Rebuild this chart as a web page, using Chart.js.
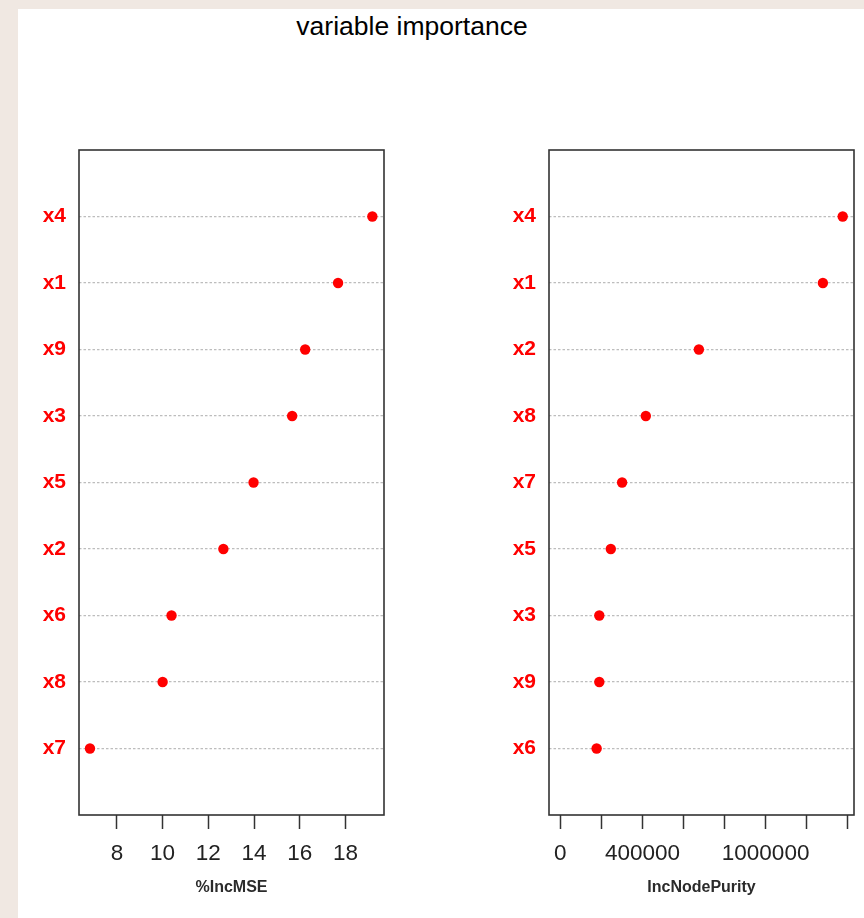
<!DOCTYPE html>
<html>
<head>
<meta charset="utf-8">
<script src="https://cdn.jsdelivr.net/npm/chart.js@4/dist/chart.umd.min.js"></script>
<style>
  html, body { margin: 0; padding: 0; }
  body { width: 864px; height: 918px; background: #f0e8e2; position: relative; overflow: hidden; font-family: "Liberation Sans", Arial, sans-serif; }
  #sheet { position: absolute; left: 18px; top: 9px; right: 0; bottom: 0; background: #ffffff; }
  #title { position: absolute; left: 212px; width: 400px; top: 9px; text-align: center; font-size: 26.5px; color: #000; line-height: 34px; }
  .panel { position: absolute; top: 0; width: 432px; height: 918px; }
  #leftPanel { left: 0; }
  #rightPanel { left: 432px; }
</style>
</head>
<body>
<div id="sheet"></div>
<div id="title">variable importance</div>
<div class="panel" id="leftPanel"><canvas id="mseChart"></canvas></div>
<div class="panel" id="rightPanel"><canvas id="purityChart"></canvas></div>
<script>
// %IncMSE, sorted from most to least important (top to bottom)
const mseNames  = ['x4', 'x1', 'x9', 'x3', 'x5', 'x2', 'x6', 'x8', 'x7'];
const mseValues = [19.18, 17.68, 16.24, 15.67, 13.98, 12.66, 10.39, 10.0, 6.82];
const mseTicks  = [8, 10, 12, 14, 16, 18];
const mseTickLabels = ['8', '10', '12', '14', '16', '18'];
const mseRange  = [6.34, 19.69];

// IncNodePurity, sorted from most to least important (top to bottom)
const purityNames  = ['x4', 'x1', 'x2', 'x8', 'x7', 'x5', 'x3', 'x9', 'x6'];
const purityValues = [1375500, 1279000, 675000, 416600, 301000, 246000, 190000, 190000, 177000];
const purityTicks  = [0, 200000, 400000, 600000, 800000, 1000000, 1200000, 1400000];
const purityTickLabels = ['0', '', '400000', '', '', '1000000', '', ''];
const purityRange  = [-55000, 1430500];

const FONT = "'Liberation Sans', Arial, sans-serif";

// Frame around the plotting region
const boxPlugin = {
  id: 'box',
  afterDraw(chart) {
    const a = chart.chartArea, ctx = chart.ctx;
    ctx.save();
    ctx.strokeStyle = '#333333';
    ctx.lineWidth = 1.6;
    ctx.strokeRect(a.left, a.top, a.right - a.left, a.bottom - a.top);
    ctx.restore();
  }
};

function makeDotChart(canvasId, names, values, ticks, tickLabels, range, axisTitle, yWidth, padRight) {
  const points = values.map((v, i) => ({ x: v, y: i + 1 }));
  return new Chart(document.getElementById(canvasId), {
    type: 'scatter',
    data: {
      datasets: [{
        data: points,
        backgroundColor: '#ff0000',
        borderWidth: 0,
        pointRadius: 5.2,
        pointHoverRadius: 5.2
      }]
    },
    options: {
      responsive: true,
      maintainAspectRatio: false,
      animation: false,
      events: [],
      layout: { padding: { left: 0, top: 150, right: padRight, bottom: 0 } },
      plugins: { legend: { display: false }, tooltip: { enabled: false } },
      scales: {
        x: {
          type: 'linear',
          min: range[0],
          max: range[1],
          afterBuildTicks: s => { s.ticks = ticks.map(v => ({ value: v })); },
          afterFit: s => { s.height = 103; },
          border: { display: false },
          grid: {
            drawOnChartArea: false,
            drawTicks: true,
            tickLength: 14,
            tickColor: '#333333',
            tickWidth: 1.5
          },
          ticks: {
            autoSkip: false,
            maxRotation: 0,
            padding: 11,
            color: '#222222',
            font: { family: FONT, size: 22.5 },
            callback: (val, idx) => tickLabels[idx]
          },
          title: {
            display: true,
            text: axisTitle,
            color: '#2b2b2b',
            font: { family: FONT, size: 16, weight: 'bold' },
            padding: { top: 0, bottom: 21 }
          }
        },
        y: {
          type: 'linear',
          reverse: true,
          min: 0,
          max: names.length + 1,
          afterBuildTicks: s => { s.ticks = names.map((n, i) => ({ value: i + 1 })); },
          afterFit: s => { s.width = yWidth; },
          border: { display: false, dash: [2.5, 2] },
          grid: {
            drawTicks: false,
            color: '#bdbdbd',
            lineWidth: 1.2
          },
          ticks: {
            autoSkip: false,
            padding: 13,
            color: '#ff0000',
            font: { family: FONT, size: 21, weight: 'bold' },
            callback: (val, idx) => names[idx]
          }
        }
      }
    },
    plugins: [boxPlugin]
  });
}

makeDotChart('mseChart', mseNames, mseValues, mseTicks, mseTickLabels, mseRange, '%IncMSE', 79, 48);
makeDotChart('purityChart', purityNames, purityValues, purityTicks, purityTickLabels, purityRange, 'IncNodePurity', 117, 10);
</script>
</body>
</html>
